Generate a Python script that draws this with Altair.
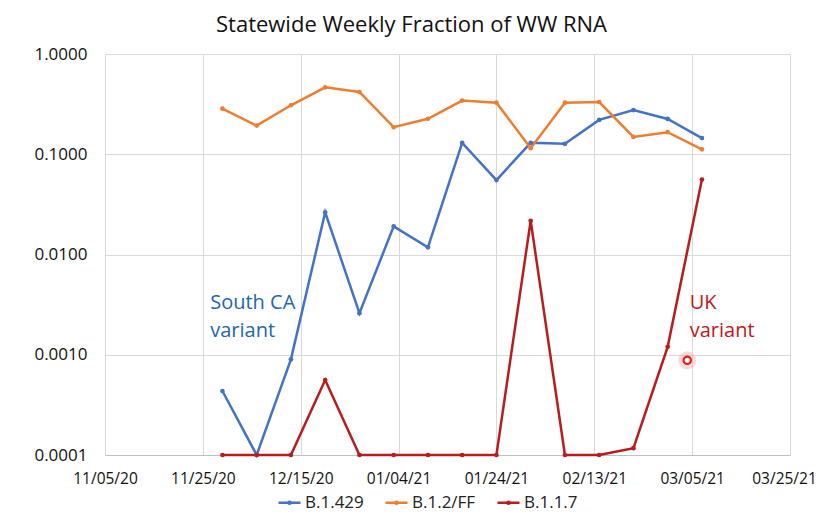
import altair as alt
import pandas as pd

# ---- data ----
dates = ["2020-11-29", "2020-12-06", "2020-12-13", "2020-12-20", "2020-12-27",
         "2021-01-03", "2021-01-10", "2021-01-17", "2021-01-24", "2021-01-31",
         "2021-02-07", "2021-02-14", "2021-02-21", "2021-02-28", "2021-03-07"]
b1429 = [0.000435, 0.0001, 0.0009, 0.0264, 0.0026, 0.0191, 0.0118, 0.130,
         0.0553, 0.130, 0.127, 0.220, 0.276, 0.225, 0.145]
b12ff = [0.285, 0.193, 0.308, 0.465, 0.418, 0.186, 0.226, 0.343, 0.327,
         0.115, 0.327, 0.332, 0.149, 0.166, 0.112]
b117 = [0.0001, 0.0001, 0.0001, 0.00056, 0.0001, 0.0001, 0.0001, 0.0001,
        0.0001, 0.0217, 0.0001, 0.0001, 0.000117, 0.0012, 0.056]

series_names = ["B.1.429", "B.1.2/FF", "B.1.1.7"]
series_colors = ["#4472C4", "#ED7D31", "#B81C1C"]

y_ticks = [0.0001, 0.001, 0.01, 0.1, 1.0]
x_tick_dates = [(2020, 11, 5), (2020, 11, 25), (2020, 12, 15), (2021, 1, 4),
                (2021, 1, 24), (2021, 2, 13), (2021, 3, 5), (2021, 3, 25)]

ann_text = ["South CA\nvariant", "UK\nvariant"]
ann_date = ["2020-11-26T12:00:00Z", "2021-03-04T12:00:00Z"]
ann_value = [0.00328, 0.00328]
ann_color = ["#2166B1", "#C0171B"]

pointer_date = ["2021-03-04"]
pointer_value = [0.00088]

FONT = "Open Sans"

rows = []
for name, vals in zip(series_names, [b1429, b12ff, b117]):
    for d, v in zip(dates, vals):
        rows.append({"date": d, "value": v, "series": name})
df = pd.DataFrame(rows)

ann_df = pd.DataFrame({"date": ann_date, "value": ann_value,
                       "text": ann_text, "color": ann_color})
ptr_df = pd.DataFrame({"date": pointer_date, "value": pointer_value})

xdt = [alt.DateTime(year=y, month=m, date=d, utc=True) for y, m, d in x_tick_dates]
last_ms = int(pd.Timestamp("2021-03-20", tz="UTC").value // 10**6)

x_enc = alt.X("date:T",
              scale=alt.Scale(type="utc", domain=[xdt[0], xdt[-1]]),
              axis=alt.Axis(values=xdt,
                            labelExpr="utcFormat(datum.value, '%m/%d/%y')",
                            title=None, grid=True, gridColor="#D9D9D9",
                            domainColor="#BFBFBF", ticks=False,
                            labelFont=FONT, labelFontSize=15.5,
                            labelColor="#111111", labelPadding=16,
                            labelOffset={"condition": {"test": f"datum.value >= {last_ms}",
                                                       "value": -6},
                                         "value": 0},
                            labelFlush=False, labelOverlap=False))
y_enc = alt.Y("value:Q",
              scale=alt.Scale(type="log", domain=[0.0001, 1.0]),
              axis=alt.Axis(values=y_ticks, format=".4f", title=None,
                            grid=True, gridColor="#D9D9D9", domain=False,
                            ticks=False, labelFont=FONT, labelFontSize=17,
                            labelColor="#111111", labelPadding=18))

legend_path = "M-1,0L1,0M0.1,0A0.1,0.1,0,1,1,-0.1,0A0.1,0.1,0,1,1,0.1,0"

color_enc = alt.Color("series:N",
                      scale=alt.Scale(domain=series_names, range=series_colors),
                      legend=alt.Legend(title=None, orient="none",
                                        direction="horizontal",
                                        legendX=172, legendY=436,
                                        symbolType=legend_path,
                                        symbolSize=484, symbolStrokeWidth=2.5,
                                        labelFont=FONT, labelFontSize=17,
                                        labelColor="#222222", labelOffset=3,
                                        columnPadding=16, labelLimit=200))

base = alt.Chart(df)
lines = base.mark_line(strokeWidth=2.5).encode(x=x_enc, y=y_enc, color=color_enc)
pts = base.mark_point(filled=True, size=22, opacity=1).encode(
    x="date:T", y="value:Q", color=alt.Color("series:N", legend=None))

ann = alt.Chart(ann_df).mark_text(align="left", baseline="middle",
                                  font=FONT, fontSize=20, lineHeight=28,
                                  lineBreak="\n").encode(
    x="date:T", y="value:Q", text="text:N",
    color=alt.Color("color:N", scale=None))

halo = alt.Chart(ptr_df).mark_point(filled=True, size=320, color="#F4A0A0",
                                    opacity=0.4).encode(x="date:T", y="value:Q")
ptr = alt.Chart(ptr_df).mark_point(filled=True, size=55, color="#FFFFFF",
                                   stroke="#E0201C", strokeWidth=2.2,
                                   opacity=1).encode(x="date:T", y="value:Q")

chart = alt.layer(lines, pts, ann, halo, ptr).properties(
    width=685, height=401,
    autosize=alt.AutoSizeParams(type="none"),
    padding={"left": 97, "top": 46, "right": 27, "bottom": 57},
    title=alt.TitleParams("Statewide Weekly Fraction of WW RNA", font=FONT,
                          fontSize=22, fontWeight="normal", color="#111111",
                          anchor="middle", dx=-36, offset=8),
).configure_view(stroke=None)

chart.save("out.html", embed_options={"renderer": "svg", "actions": False})
